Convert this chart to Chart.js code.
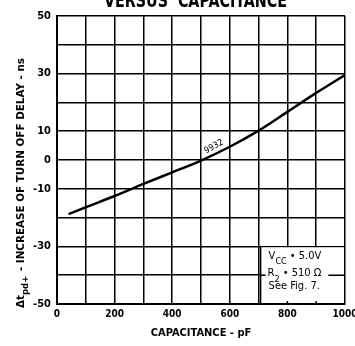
<!DOCTYPE html>
<html>
<head>
<meta charset="utf-8">
<script src="https://cdn.jsdelivr.net/npm/chart.js@4.4.1/dist/chart.umd.min.js"></script>
<style>
  body { margin: 0; background: #fff; }
  canvas { display: block; }
</style>
</head>
<body>
<canvas id="delayChart" width="355" height="346"></canvas>
<script>
const capacitance = [40, 100, 200, 300, 400, 500, 600, 700, 800, 900, 1000];
const delayIncrease = [-18.8, -16.4, -12.5, -8.3, -4.3, -0.2, 4.6, 10.2, 16.7, 23.3, 29.5];
const xTickLabels = [0, 200, 400, 600, 800, 1000];
const yTickLabels = [50, 30, 10, 0, -10, -30, -50];

const FONT = "'Liberation Sans Narrow', 'DejaVu Sans Condensed', 'Arial Narrow', sans-serif";

// text drawn straight on the canvas: cut title, y title with subscript, note box, curve label
const extras = {
    id: 'extras',
    afterDatasetsDraw(chart) {
        const ctx = chart.ctx;
        const x = chart.scales.x, y = chart.scales.y;
        ctx.save();
        ctx.fillStyle = '#000';
        ctx.strokeStyle = '#000';

        // title, only its lower half is inside the picture
        ctx.font = 'bold 20px ' + FONT;
        ctx.textBaseline = 'alphabetic';
        ctx.textAlign = 'left';
        const title = 'VERSUS  CAPACITANCE';
        const tw = ctx.measureText(title).width;
        ctx.save();
        ctx.translate(104, 7);
        ctx.scale(183 / tw, 1);
        ctx.fillText(title, 0, 0);
        ctx.restore();

        // y axis title, rotated, stretched to its span in the original
        ctx.save();
        ctx.translate(24, 308);
        ctx.rotate(-Math.PI / 2);
        ctx.font = 'bold 11px ' + FONT;
        ctx.textBaseline = 'alphabetic';
        const rest = ' - INCREASE OF TURN OFF DELAY - ns';
        const wD = ctx.measureText('\u0394t').width, wR = ctx.measureText(rest).width;
        ctx.font = 'bold 9px ' + FONT;
        const wS = ctx.measureText('pd+').width;
        ctx.scale(250 / (wD + wS + wR + 1), 1);
        ctx.font = 'bold 11px ' + FONT;
        ctx.fillText('\u0394t', 0, 0);
        ctx.font = 'bold 9px ' + FONT;
        ctx.fillText('pd+', wD, 4);
        ctx.font = 'bold 11px ' + FONT;
        ctx.fillText(rest, wD + wS + 1, 0);
        ctx.restore();

        // note box in the lower right corner
        const bx = x.getPixelForValue(707), bTop = y.getPixelForValue(-30);
        const bRight = x.right, bBottom = y.bottom;
        ctx.fillStyle = '#fff';
        ctx.fillRect(bx, bTop + 1, bRight - bx - 1, bBottom - bTop - 2);
        ctx.lineWidth = 1.5;
        ctx.beginPath();
        ctx.moveTo(bx, bTop);
        ctx.lineTo(bx, bBottom);
        ctx.stroke();
        // small tick stubs of the hidden grid lines
        [800, 900].forEach(v => {
            const gx = x.getPixelForValue(v);
            ctx.beginPath();
            ctx.moveTo(gx, bBottom);
            ctx.lineTo(gx, bBottom - 3);
            ctx.stroke();
        });
        ctx.fillStyle = '#000';
        const big = '11px ' + FONT, small = '9px ' + FONT;
        ctx.font = big;
        ctx.textBaseline = 'middle';
        const tx = bx + 8;
        // VCC line
        ctx.fillText('V', tx, 256);
        let w = ctx.measureText('V').width;
        ctx.font = small;
        ctx.fillText('CC', tx + w, 262);
        w += ctx.measureText('CC').width;
        ctx.font = big;
        ctx.fillText(' \u2022 5.0V', tx + w, 256);
        // R2 line with the -40 grid line broken around it
        const rY = y.getPixelForValue(-40);
        ctx.fillText('R', tx - 1, rY - 2);
        let rw = ctx.measureText('R').width;
        ctx.font = small;
        ctx.fillText('2', tx - 1 + rw, rY + 4);
        rw += ctx.measureText('2').width;
        ctx.font = big;
        ctx.fillText(' \u2022 510 \u03A9', tx - 1 + rw, rY - 2);
        rw += ctx.measureText(' \u2022 510 \u03A9').width;
        ctx.lineWidth = 1.5;
        ctx.beginPath();
        ctx.moveTo(bx, rY);
        ctx.lineTo(tx - 3, rY);
        ctx.moveTo(tx + rw + 6, rY);
        ctx.lineTo(bRight, rY);
        ctx.stroke();
        ctx.fillText('See Fig. 7.', tx, 286);

        // part number written along the curve
        ctx.save();
        ctx.translate(x.getPixelForValue(545), y.getPixelForValue(4.6));
        ctx.rotate(-0.5);
        ctx.font = '9px ' + FONT;
        ctx.textAlign = 'center';
        ctx.textBaseline = 'middle';
        ctx.fillText('9932', 0, 0);
        ctx.restore();

        ctx.restore();
    }
};

const ctx = document.getElementById('delayChart').getContext('2d');
new Chart(ctx, {
    type: 'line',
    data: {
        datasets: [{
            data: capacitance.map((c, i) => ({ x: c, y: delayIncrease[i] })),
            borderColor: '#000',
            borderWidth: 2.5,
            pointRadius: 0,
            cubicInterpolationMode: 'monotone',
            fill: false
        }]
    },
    options: {
        responsive: false,
        animation: false,
        layout: { padding: { top: 16, right: 0, left: 0, bottom: 0 } },
        plugins: {
            legend: { display: false },
            tooltip: { enabled: false }
        },
        scales: {
            x: {
                type: 'linear',
                min: 0,
                max: 1000,
                afterFit: s => { s.height = 42; s.paddingRight = 10; },
                ticks: {
                    stepSize: 100,
                    autoSkip: false,
                    maxRotation: 0,
                    padding: 4,
                    color: '#000',
                    font: { family: FONT, size: 10, weight: 'bold' },
                    callback: v => xTickLabels.includes(v) ? v : ''
                },
                grid: { color: '#000', lineWidth: 1.5, drawTicks: false },
                border: { color: '#000', width: 2 },
                title: {
                    display: true,
                    text: 'CAPACITANCE - pF',
                    color: '#000',
                    font: { family: FONT, size: 11, weight: 'bold' },
                    padding: { top: 0, bottom: 6 }
                }
            },
            y: {
                min: -50,
                max: 50,
                afterFit: s => { s.width = 57; },
                ticks: {
                    stepSize: 10,
                    autoSkip: false,
                    padding: 6,
                    color: '#000',
                    font: { family: FONT, size: 11, weight: 'bold' },
                    callback: v => yTickLabels.includes(v) ? v : ''
                },
                grid: { color: '#000', lineWidth: 1.5, drawTicks: false },
                border: { color: '#000', width: 2 }
            }
        }
    },
    plugins: [extras]
});
</script>
</body>
</html>
